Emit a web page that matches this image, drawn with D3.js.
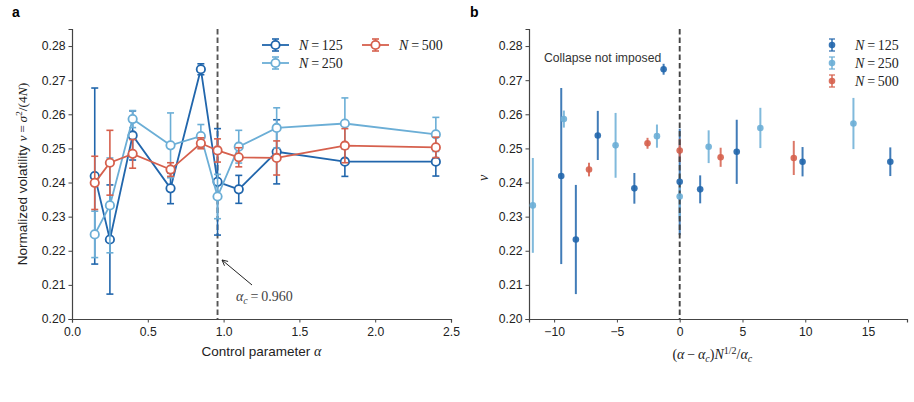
<!DOCTYPE html>
<html>
<head>
<meta charset="utf-8">
<script src="https://cdn.jsdelivr.net/npm/d3@7"></script>
<style>
 body { margin:0; background:#fff; }
 text { font-family: "Liberation Sans", Arial, sans-serif; }
 .serif { font-family: "Liberation Serif", "Times New Roman", serif; }
</style>
</head>
<body>
<div id="container"></div>
<script>
// control parameter values and measured volatility per system size
const alphas = [0.15, 0.25, 0.40, 0.65, 0.85, 0.96, 1.10, 1.35, 1.80, 2.40];
const nu125  = [0.2419, 0.2233, 0.2538, 0.2383, 0.2732, 0.2402, 0.2380, 0.2490, 0.2461, 0.2461];
const err125 = [0.0258, 0.0160, 0.0072, 0.0045, 0.0016, 0.0156, 0.0041, 0.0094, 0.0043, 0.0042];
const nu250  = [0.2248, 0.2333, 0.2586, 0.2509, 0.2536, 0.2359, 0.2505, 0.2560, 0.2573, 0.2541];
const err250 = [0.0068, 0.0139, 0.0025, 0.0095, 0.0034, 0.0065, 0.0048, 0.0059, 0.0075, 0.0050];
const nu500  = [0.2399, 0.2458, 0.2484, 0.2438, 0.2515, 0.2494, 0.2474, 0.2472, 0.2508, 0.2503];
const err500 = [0.0078, 0.0095, 0.0042, 0.0020, 0.0016, 0.0034, 0.0028, 0.0050, 0.0050, 0.0030];
const sizes = [125, 250, 500];
const alphaC = 0.96;
const xTicksA = [0, 0.5, 1.0, 1.5, 2.0, 2.5];
const xTicksB = [-10, -5, 0, 5, 10, 15];
const yTicks = [0.20, 0.21, 0.22, 0.23, 0.24, 0.25, 0.26, 0.27, 0.28];

const colors = ['#2166ac', '#6baed6', '#d6604d'];
const series = sizes.map((N, i) => ({
  N, nu: [nu125, nu250, nu500][i], err: [err125, err250, err500][i], color: colors[i]
}));

const width = 914, height = 402;
const axisColor = '#444';

const svg = d3.select('#container').append('svg')
  .attr('width', width).attr('height', height)
  .style('background', '#fff');

const y = d3.scaleLinear().domain([0.20, 0.285]).range([319, 29]);

function drawAxes(x, ticks, fmt, left) {
  const g = svg.append('g');
  const xa = g.append('g').attr('transform', 'translate(0,319)')
    .call(d3.axisBottom(x).tickValues(ticks).tickFormat(fmt).tickSize(3.5).tickPadding(5));
  const ya = g.append('g').attr('transform', `translate(${left},0)`)
    .call(d3.axisLeft(y).tickValues(yTicks).tickFormat(d3.format('.2f')).tickSize(3.5).tickPadding(3));
  [xa, ya].forEach(a => {
    a.select('.domain').attr('stroke', axisColor).attr('stroke-width', 1.2);
    a.selectAll('.tick line').attr('stroke', axisColor).attr('stroke-width', 1);
    a.selectAll('.tick text').attr('fill', '#222').style('font-size', '12.2px')
      .style('font-family', '"Liberation Sans", Arial, sans-serif');
  });
  return g;
}

// small helper for "N = 125" legend labels
function nLabel(sel, N) {
  sel.append('tspan').style('font-style', 'italic').text('N');
  sel.append('tspan').text('\u2009=\u2009' + N);
}

// ---------- panel a ----------
const xa = d3.scaleLinear().domain([0, 2.5]).range([72, 451]);

svg.append('line')
  .attr('x1', xa(alphaC)).attr('x2', xa(alphaC))
  .attr('y1', 29).attr('y2', 319)
  .attr('stroke', '#555').attr('stroke-width', 1.9).attr('stroke-dasharray', '5.5,3');

drawAxes(xa, xTicksA, d3.format('.1f'), 72);

series.forEach(s => {
  const g = svg.append('g');
  const pts = alphas.map((a, i) => ({a, v: s.nu[i], e: s.err[i]}));
  // error bars
  pts.forEach(p => {
    g.append('line').attr('x1', xa(p.a)).attr('x2', xa(p.a))
      .attr('y1', y(p.v - p.e)).attr('y2', y(p.v + p.e))
      .attr('stroke', s.color).attr('stroke-width', 1.6);
    [p.v - p.e, p.v + p.e].forEach(v => {
      g.append('line').attr('x1', xa(p.a) - 3.5).attr('x2', xa(p.a) + 3.5)
        .attr('y1', y(v)).attr('y2', y(v))
        .attr('stroke', s.color).attr('stroke-width', 1.6);
    });
  });
  g.append('path').datum(pts)
    .attr('fill', 'none').attr('stroke', s.color).attr('stroke-width', 1.8)
    .attr('d', d3.line().x(p => xa(p.a)).y(p => y(p.v)));
  g.selectAll('circle').data(pts).enter().append('circle')
    .attr('cx', p => xa(p.a)).attr('cy', p => y(p.v)).attr('r', 4.2)
    .attr('fill', '#fff').attr('stroke', s.color).attr('stroke-width', 1.8);
});

// annotation
svg.append('defs').append('marker')
  .attr('id', 'arr').attr('viewBox', '0 0 10 10').attr('refX', 9).attr('refY', 5)
  .attr('markerWidth', 7).attr('markerHeight', 7).attr('orient', 'auto-start-reverse')
  .append('path').attr('d', 'M1,1 L9,5 L1,9').attr('fill', 'none').attr('stroke', '#222').attr('stroke-width', 1.3);
svg.append('line').attr('x1', 252).attr('y1', 285).attr('x2', 222).attr('y2', 260)
  .attr('stroke', '#222').attr('stroke-width', 1).attr('marker-end', 'url(#arr)');
const ann = svg.append('text').attr('class', 'serif').attr('x', 236).attr('y', 301)
  .attr('fill', '#444').style('font-size', '14px');
ann.append('tspan').style('font-style', 'italic').text('α');
ann.append('tspan').style('font-style', 'italic').style('font-size', '10px').attr('dy', 3).text('c');
ann.append('tspan').attr('dy', -3).text('\u2009=\u20090.960');

// legend a
const legA = [{s: series[0], x: 262, y: 45}, {s: series[1], x: 262, y: 63}, {s: series[2], x: 362, y: 45}];
legA.forEach(l => {
  const g = svg.append('g');
  g.append('line').attr('x1', l.x).attr('x2', l.x + 27).attr('y1', l.y).attr('y2', l.y)
    .attr('stroke', l.s.color).attr('stroke-width', 1.8);
  g.append('line').attr('x1', l.x + 13.5).attr('x2', l.x + 13.5).attr('y1', l.y - 6).attr('y2', l.y + 6)
    .attr('stroke', l.s.color).attr('stroke-width', 1.6);
  [l.y - 6, l.y + 6].forEach(v => g.append('line').attr('x1', l.x + 10).attr('x2', l.x + 17)
    .attr('y1', v).attr('y2', v).attr('stroke', l.s.color).attr('stroke-width', 1.6));
  g.append('circle').attr('cx', l.x + 13.5).attr('cy', l.y).attr('r', 4.2)
    .attr('fill', '#fff').attr('stroke', l.s.color).attr('stroke-width', 1.8);
  const t = g.append('text').attr('class', 'serif').attr('x', l.x + 37).attr('y', l.y + 4.5)
    .attr('fill', '#222').style('font-size', '14px');
  nLabel(t, l.s.N);
});

// labels a
svg.append('text').attr('x', 12).attr('y', 17).style('font-weight', 'bold').style('font-size', '14px').text('a');
svg.append('text').attr('x', xa(1.25)).attr('y', 356).attr('text-anchor', 'middle')
  .style('font-size', '13.5px').attr('fill', '#222')
  .call(t => {
    t.append('tspan').text('Control parameter ');
    t.append('tspan').attr('class', 'serif').style('font-style', 'italic').style('font-size', '14px').text('α');
  });
const yl = svg.append('text').attr('transform', 'translate(27,174) rotate(-90)')
  .attr('text-anchor', 'middle').style('font-size', '13.5px').attr('fill', '#222');
yl.append('tspan').text('Normalized volatility ');
yl.append('tspan').attr('class', 'serif').style('font-style', 'italic').text('ν');
yl.append('tspan').attr('class', 'serif').text('\u2009=\u2009');
yl.append('tspan').attr('class', 'serif').style('font-style', 'italic').text('σ');
yl.append('tspan').attr('class', 'serif').style('font-size', '9px').attr('dy', -5).text('2');
yl.append('tspan').attr('class', 'serif').attr('dy', 5).text('/(4');
yl.append('tspan').attr('class', 'serif').style('font-style', 'italic').text('N');
yl.append('tspan').attr('class', 'serif').text(')');

// ---------- panel b ----------
const xb = d3.scaleLinear().domain([-12, 18.1]).range([529, 907]);

drawAxes(xb, xTicksB, d => d < 0 ? '\u2212' + Math.abs(d) : d, 529);

const bLayer = svg.append('g');
const dotLayer = svg.append('g');
series.forEach(s => {
  const pts = alphas.map((a, i) => ({
    z: (a - alphaC) * Math.sqrt(s.N) / alphaC, v: s.nu[i], e: s.err[i]
  })).filter(p => p.z >= -12 && p.z <= 18.1);
  pts.forEach(p => {
    bLayer.append('line').attr('x1', xb(p.z)).attr('x2', xb(p.z))
      .attr('y1', y(p.v - p.e)).attr('y2', y(p.v + p.e))
      .attr('stroke', s.color).attr('stroke-width', 2).attr('opacity', 0.85);
    dotLayer.append('circle').attr('cx', xb(p.z)).attr('cy', y(p.v)).attr('r', 3.3)
      .attr('fill', s.color).attr('opacity', 0.9);
  });
});
svg.append('line')
  .attr('x1', xb(0)).attr('x2', xb(0)).attr('y1', 29).attr('y2', 319)
  .attr('stroke', '#444').attr('stroke-width', 1.9).attr('stroke-dasharray', '5.5,3');
dotLayer.raise();

svg.append('text').attr('x', 544).attr('y', 61.5).style('font-size', '12.2px').attr('fill', '#333')
  .text('Collapse not imposed');

// legend b
series.forEach((s, i) => {
  const ly = 45 + i * 18, lx = 832;
  svg.append('line').attr('x1', lx).attr('x2', lx).attr('y1', ly - 6).attr('y2', ly + 6)
    .attr('stroke', s.color).attr('stroke-width', 1.6).attr('opacity', 0.85);
  [ly - 6, ly + 6].forEach(v => svg.append('line').attr('x1', lx - 3).attr('x2', lx + 3)
    .attr('y1', v).attr('y2', v).attr('stroke', s.color).attr('stroke-width', 1.4).attr('opacity', 0.85));
  svg.append('circle').attr('cx', lx).attr('cy', ly).attr('r', 3.3).attr('fill', s.color).attr('opacity', 0.9);
  const t = svg.append('text').attr('class', 'serif').attr('x', 855).attr('y', ly + 4.5)
    .attr('fill', '#222').style('font-size', '14px');
  nLabel(t, s.N);
});

svg.append('text').attr('x', 470).attr('y', 17).style('font-weight', 'bold').style('font-size', '14px').text('b');
svg.append('text').attr('class', 'serif').attr('text-anchor', 'middle')
  .attr('transform', 'translate(488,178) rotate(-90)')
  .style('font-size', '14px').style('font-style', 'italic').attr('fill', '#222').text('ν');

const xlb = svg.append('text').attr('class', 'serif').attr('x', xb(2.6)).attr('y', 359)
  .attr('text-anchor', 'middle').style('font-size', '14px').attr('fill', '#222');
xlb.append('tspan').text('(');
xlb.append('tspan').style('font-style', 'italic').text('α');
xlb.append('tspan').text('\u2009\u2212\u2009');
xlb.append('tspan').style('font-style', 'italic').text('α');
xlb.append('tspan').style('font-style', 'italic').style('font-size', '10px').attr('dy', 3).text('c');
xlb.append('tspan').attr('dy', -3).text(')');
xlb.append('tspan').style('font-style', 'italic').text('N');
xlb.append('tspan').style('font-size', '10px').attr('dy', -5).text('1/2');
xlb.append('tspan').attr('dy', 5).text('/');
xlb.append('tspan').style('font-style', 'italic').text('α');
xlb.append('tspan').style('font-style', 'italic').style('font-size', '10px').attr('dy', 3).text('c');
</script>
</body>
</html>
